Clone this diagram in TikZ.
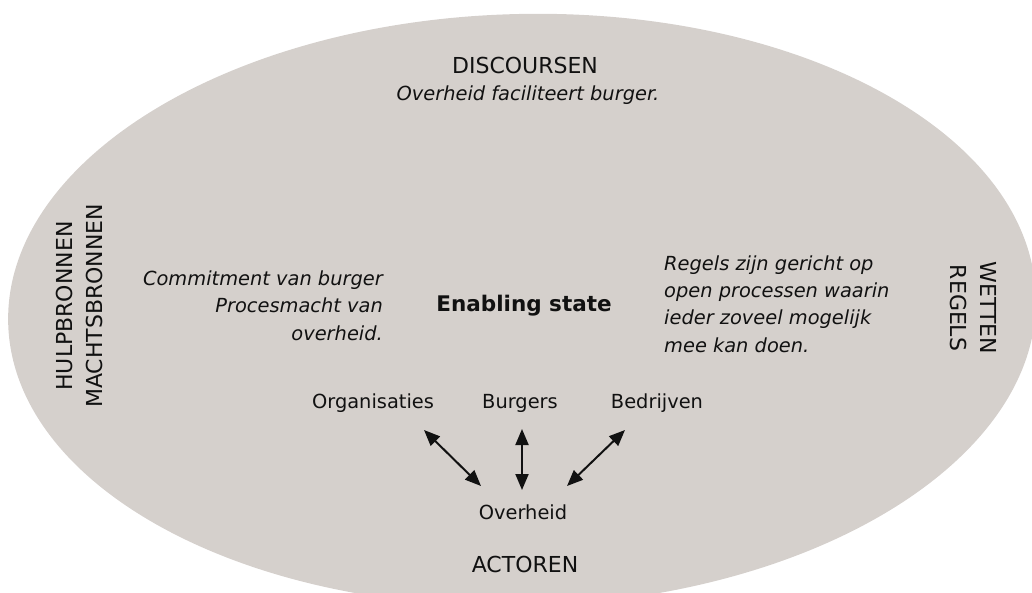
\documentclass[tikz,border=0pt]{standalone}
\usepackage{fontspec}
\setmainfont{DejaVu Sans}
\usetikzlibrary{arrows.meta}
\definecolor{ellfill}{RGB}{213,208,204}
\definecolor{ink}{RGB}{17,17,17}
\begin{document}
\begin{tikzpicture}[x=1pt,y=-1pt,
  lbl/.style={inner sep=0pt, text=ink, font=\fontsize{22}{30}\selectfont},
  txt/.style={inner sep=0pt, text=ink, font=\fontsize{19.4}{27}\selectfont},
  itxt/.style={inner sep=0pt, text=ink, font=\fontsize{19.4}{27.3}\selectfont\itshape},
  btxt/.style={inner sep=0pt, text=ink, font=\fontsize{21.5}{26}\selectfont\bfseries},
  biarrow/.style={{Triangle[length=16pt,width=13pt]}-{Triangle[length=16pt,width=13pt]}, line width=2pt, draw=ink},
]
\useasboundingbox (0,0) rectangle (1032,592);
\clip (0,0) rectangle (1032,592);
\fill[ellfill, rotate around={1.5:(522,310)}] (522,310) ellipse [x radius=514pt, y radius=296pt];

\node[lbl, anchor=base] (disc) at (525,73) {DISCOURSEN};
\node[itxt, anchor=base] (discsub) at (528,100) {Overheid faciliteert burger.};

\node[lbl, align=center, rotate=90] (hulp) at (79,306) {HULPBRONNEN\\MACHTSBRONNEN};
\node[lbl, align=center, rotate=-90] (wet) at (973,308) {WETTEN\\REGELS};

\node[itxt, align=right, anchor=base east] (commit) at (383,340) {Commitment van burger\\Procesmacht van\\overheid.};
\node[btxt, anchor=base] (enab) at (524,311) {Enabling state};
\node[itxt, align=left, anchor=base west] (regels) at (664,352) {Regels zijn gericht op\\open processen waarin\\ieder zoveel mogelijk\\mee kan doen.};

\node[txt, anchor=base] (org) at (373,408) {Organisaties};
\node[txt, anchor=base] (burg) at (520,408) {Burgers};
\node[txt, anchor=base] (bedr) at (657,408) {Bedrijven};
\node[txt, anchor=base] (ovh) at (523,519) {Overheid};
\node[lbl, anchor=base] (act) at (525,572) {ACTOREN};

\coordinate (a1s) at (424,430);
\coordinate (a1e) at (481,486);
\coordinate (a2s) at (522,429);
\coordinate (a2e) at (522,490);
\coordinate (a3s) at (625,430);
\coordinate (a3e) at (567,486);
\draw[biarrow] (a1s) -- (a1e);
\draw[biarrow] (a2s) -- (a2e);
\draw[biarrow] (a3s) -- (a3e);
\end{tikzpicture}
\end{document}
